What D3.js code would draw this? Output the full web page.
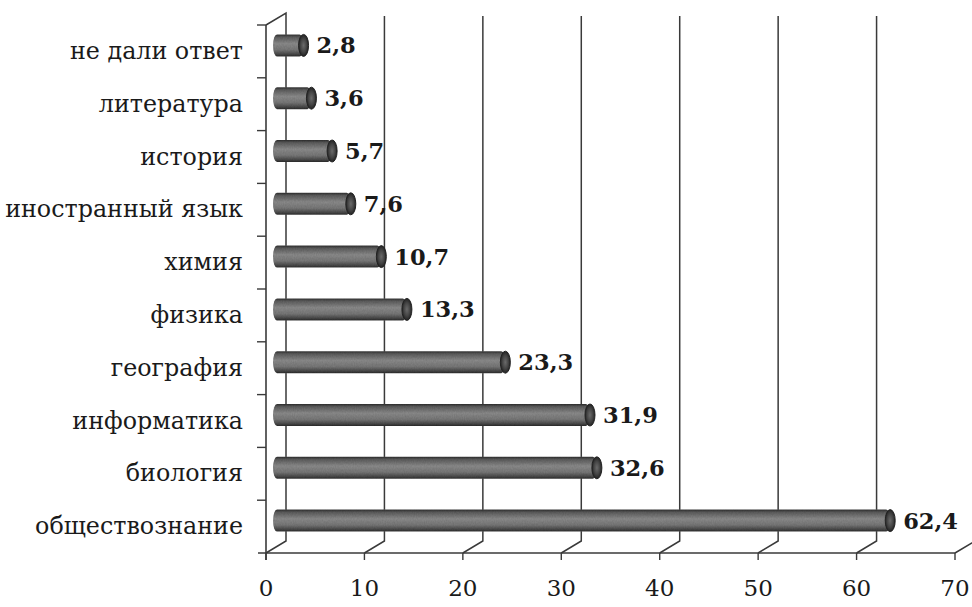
<!DOCTYPE html>
<html><head><meta charset="utf-8">
<script src="https://cdn.jsdelivr.net/npm/d3@7"></script>
<style>html,body{margin:0;padding:0;background:#fff;}svg{display:block;}</style>
</head><body>
<script>
const categories = ["не дали ответ","литература","история","иностранный язык","химия","физика","география","информатика","биология","обществознание"];
const values = [2.8,3.6,5.7,7.6,10.7,13.3,23.3,31.9,32.6,62.4];
const valueLabels = ["2,8","3,6","5,7","7,6","10,7","13,3","23,3","31,9","32,6","62,4"];
const tickValues = [0,10,20,30,40,50,60,70];

const W = 972, H = 607;
const svg = d3.select("body").append("svg").attr("width", W).attr("height", H);

const x = d3.scaleLinear().domain([0,70]).range([266,955]);
const y = d3.scaleBand().domain(categories).range([25,553]).padding(0);
const DX = 20, DY = -12;          // depth offset of back wall
const floorY = y.range()[1];

const defs = svg.append("defs");
const g = defs.append("linearGradient").attr("id","cyl").attr("x1",0).attr("y1",0).attr("x2",0).attr("y2",1);
[[0,"#2e2e2e"],[0.12,"#5e5e5e"],[0.42,"#8e8e8e"],[0.7,"#7a7a7a"],[0.9,"#4a4a4a"],[1,"#2a2a2a"]]
  .forEach(([o,c])=>g.append("stop").attr("offset",o).attr("stop-color",c));
const gc = defs.append("radialGradient").attr("id","cap");
[[0,"#6a6a6a"],[0.6,"#444"],[1,"#222"]].forEach(([o,c])=>gc.append("stop").attr("offset",o).attr("stop-color",c));
const f = defs.append("filter").attr("id","grain").attr("x",0).attr("y",0).attr("width",1).attr("height",1);
f.append("feTurbulence").attr("type","fractalNoise").attr("baseFrequency","0.9 0.5").attr("numOctaves",2).attr("seed",3).attr("result","n");
f.append("feColorMatrix").attr("in","n").attr("type","matrix")
  .attr("values","0 0 0 0 0.5  0 0 0 0 0.5  0 0 0 0 0.5  0 0 0 0.55 0").attr("result","nm");
f.append("feComposite").attr("in","nm").attr("in2","SourceGraphic").attr("operator","in").attr("result","nc");
f.append("feBlend").attr("in","SourceGraphic").attr("in2","nc").attr("mode","multiply");

const lineColor = "#3a3a3a";
const grid = svg.append("g").attr("stroke", lineColor).attr("fill","none");

// back wall vertical gridlines + floor diagonals
tickValues.forEach(t => {
  const fx = x(t), bx = x(t) + DX;
  if (t === 0) return;
  grid.append("path").attr("stroke-width",1.5)
    .attr("d", `M${bx},${y.range()[0]-9}L${bx},${floorY+DY}L${fx},${floorY}`);
});
// left back wall edge
grid.append("path").attr("stroke-width",1.5)
  .attr("d", `M${x(0)},${y.range()[0]}L${x(0)+DX},${y.range()[0]+DY}L${x(0)+DX},${floorY+DY}L${x(0)},${floorY}`);

// front axes
grid.append("line").attr("x1",x(0)).attr("x2",x(0)).attr("y1",y.range()[0]).attr("y2",floorY+7).attr("stroke-width",1.6);
grid.append("line").attr("x1",x(0)-8).attr("x2",x(70)).attr("y1",floorY).attr("y2",floorY).attr("stroke-width",1.3);
// category ticks
categories.forEach(c => grid.append("line").attr("x1",x(0)-9).attr("x2",x(0)).attr("y1",y(c)).attr("y2",y(c)).attr("stroke-width",1.4));
// value ticks
tickValues.forEach(t => grid.append("line").attr("x1",x(t)).attr("x2",x(t)).attr("y1",floorY).attr("y2",floorY+7).attr("stroke-width",1.4));

// bars (cylinders) at mid depth
const bh = 22;
const bars = svg.append("g");
categories.forEach((c,i) => {
  const cy = y(c) + y.bandwidth()/2 + DY/2;
  const x0 = x(0) + DX/2, x1 = x(values[i]) + DX/2;
  const gb = bars.append("g");
  gb.append("rect").attr("x", x0 - 3).attr("y", cy - bh/2).attr("width", x1 - x0 + 3).attr("height", bh)
    .attr("rx", 4).attr("ry", bh/2)
    .attr("fill","url(#cyl)").attr("filter","url(#grain)");
  gb.append("ellipse").attr("cx", x1).attr("cy", cy).attr("rx", 5).attr("ry", bh/2)
    .attr("fill","url(#cap)").attr("stroke","#222").attr("stroke-width",1);
  svg.append("text").attr("x", x1 + 13).attr("y", cy + 2)
    .attr("dominant-baseline","middle")
    .attr("font-family","'DejaVu Serif', serif").attr("font-weight","bold").attr("font-size",22.5)
    .attr("fill","#1a1a1a").text(valueLabels[i]);
});

// category labels
svg.append("g").selectAll("text").data(categories).join("text")
  .attr("x", 243).attr("y", d => y(d) + y.bandwidth()/2 + 1)
  .attr("text-anchor","end").attr("dominant-baseline","middle")
  .attr("font-family","'DejaVu Serif', serif").attr("font-size",23.8).attr("fill","#1a1a1a")
  .text(d => d);

// value axis labels
svg.append("g").selectAll("text").data(tickValues).join("text")
  .attr("x", d => x(d)).attr("y", 590)
  .attr("text-anchor","middle").attr("dominant-baseline","middle")
  .attr("font-family","'DejaVu Serif', serif").attr("font-size",23).attr("fill","#1a1a1a")
  .text(d => d);
</script>
</body></html>
